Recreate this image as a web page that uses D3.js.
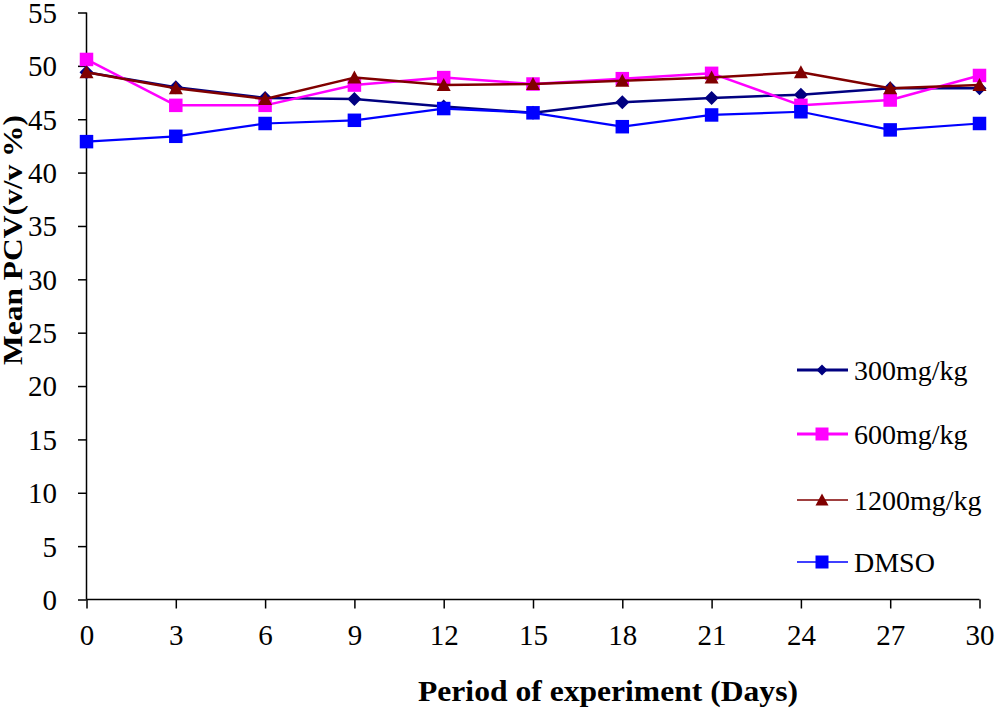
<!DOCTYPE html>
<html>
<head>
<meta charset="utf-8">
<script src="https://cdn.jsdelivr.net/npm/d3@7"></script>
<style>
  html, body { margin: 0; padding: 0; background: #fff; }
  svg { display: block; }
  text { font-family: "Liberation Serif", "Times New Roman", serif; fill: #000; }
</style>
</head>
<body>
<svg id="chart" width="996" height="712"></svg>
<script>
// ---- data ----
const days = [0, 3, 6, 9, 12, 15, 18, 21, 24, 27, 30];
const s300 = [49.4, 48.0, 47.0, 46.9, 46.2, 45.6, 46.6, 47.0, 47.3, 47.9, 47.9];
const s600 = [50.6, 46.3, 46.3, 48.2, 48.9, 48.3, 48.8, 49.3, 46.3, 46.8, 49.1];
const s1200 = [49.4, 47.9, 46.9, 48.9, 48.2, 48.3, 48.6, 48.9, 49.4, 47.9, 48.2];
const sDMSO = [42.9, 43.4, 44.6, 44.9, 46.0, 45.6, 44.3, 45.4, 45.7, 44.0, 44.6];
const seriesNames = ["300mg/kg", "600mg/kg", "1200mg/kg", "DMSO"];
const yTicks = [0, 5, 10, 15, 20, 25, 30, 35, 40, 45, 50, 55];
const xTicks = [0, 3, 6, 9, 12, 15, 18, 21, 24, 27, 30];
const xTitle = "Period of experiment (Days)";
const yTitle = "Mean PCV(v/v %)";

const styles = [
  { color: "#000080", marker: "diamond", lw: 2.5, legendLw: 3, size: 14 },
  { color: "#FF00FF", marker: "square", lw: 2.5, legendLw: 3, size: 13.5 },
  { color: "#800000", marker: "triangle", lw: 2.5, legendLw: 1.5, size: 14 },
  { color: "#0000FF", marker: "square", lw: 2.2, legendLw: 1.5, size: 13.5 }
];
const seriesData = [s300, s600, s1200, sDMSO];

const svg = d3.select("#chart");
const x = d3.scaleLinear().domain([0, 30]).range([86.5, 979.5]);
const y = d3.scaleLinear().domain([0, 55]).range([599.5, 12.5]);

// axes
const yAxis = d3.axisLeft(y).tickValues(yTicks).tickSize(8.5).tickPadding(21).tickFormat(d3.format("d"));
const xAxis = d3.axisBottom(x).tickValues(xTicks).tickSize(9).tickPadding(16).tickFormat(d3.format("d"));

const gy = svg.append("g").attr("transform", `translate(${x(0)},0)`).call(yAxis);
const gx = svg.append("g").attr("transform", `translate(0,${y(0)})`).call(xAxis);
[gy, gx].forEach(g => {
  g.select(".domain").attr("stroke", "#000").attr("stroke-width", 1.5);
  g.selectAll(".tick line").attr("stroke", "#000").attr("stroke-width", 1.5);
  g.selectAll(".tick text").style("font-family", '"Liberation Serif", serif').style("font-size", "29px").attr("fill", "#000");
});
gy.select(".domain").attr("d", `M0,${y(55)}V${y(0)}`);
gx.select(".domain").attr("d", `M${x(0)},0H${x(30)}`);
gx.selectAll(".tick text").attr("dy", "0.71em");
gy.selectAll(".tick text").attr("dy", "0.34em");

// markers
function markerPath(type, s) {
  const h = s / 2;
  if (type === "square") return `M${-h},${-h}H${h}V${h}H${-h}Z`;
  if (type === "diamond") return `M0,${-h}L${h},0L0,${h}L${-h},0Z`;
  if (type === "triangle") return `M0,${-h}L${h},${h * 0.85}L${-h},${h * 0.85}Z`;
}

const line = d3.line().x((d, i) => x(days[i])).y(d => y(d));

seriesData.forEach((vals, si) => {
  const st = styles[si];
  const g = svg.append("g");
  g.append("path").datum(vals).attr("d", line).attr("fill", "none")
    .attr("stroke", st.color).attr("stroke-width", st.lw).attr("stroke-linejoin", "round");
  g.selectAll("path.m").data(vals).enter().append("path").attr("class", "m")
    .attr("transform", (d, i) => `translate(${x(days[i])},${y(d)})`)
    .attr("d", markerPath(st.marker, st.size)).attr("fill", st.color);
});

// legend
const legendY = [370, 434, 500, 562];
seriesNames.forEach((name, si) => {
  const st = styles[si];
  const g = svg.append("g").attr("transform", `translate(0,${legendY[si]})`);
  g.append("line").attr("x1", 797).attr("x2", 848).attr("y1", 0).attr("y2", 0)
    .attr("stroke", st.color).attr("stroke-width", st.legendLw);
  const ms = st.marker === "diamond" ? 11 : 13;
  g.append("path").attr("transform", "translate(822,0)").attr("d", markerPath(st.marker, ms)).attr("fill", st.color);
  g.append("text").attr("x", 854).attr("y", 0).attr("dy", "0.36em")
    .style("font-size", "28px").text(name);
});

// titles
svg.append("text").attr("x", 608).attr("y", 701).attr("text-anchor", "middle")
  .style("font-size", "29px").style("font-weight", "bold")
  .attr("textLength", 380).attr("lengthAdjust", "spacingAndGlyphs").text(xTitle);
svg.append("text").attr("transform", "translate(22,240) rotate(-90)").attr("text-anchor", "middle")
  .style("font-size", "27px").style("font-weight", "bold")
  .attr("textLength", 250).attr("lengthAdjust", "spacingAndGlyphs").text(yTitle);
</script>
</body>
</html>
